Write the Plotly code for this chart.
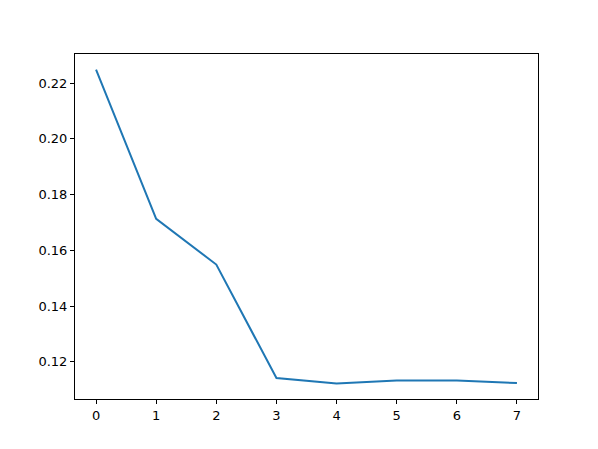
import plotly.graph_objects as go

# data
epochs = [0, 1, 2, 3, 4, 5, 6, 7]
loss = [0.2248, 0.1713, 0.1549, 0.1142, 0.1123, 0.1133, 0.1133, 0.1124]

x_ticks = [0, 1, 2, 3, 4, 5, 6, 7]
y_ticks = [0.12, 0.14, 0.16, 0.18, 0.20, 0.22]

fig = go.Figure()
fig.add_trace(go.Scatter(
    x=epochs, y=loss, mode="lines",
    line=dict(color="#1f77b4", width=2),
    showlegend=False,
))

axis_style = dict(
    showgrid=False, zeroline=False,
    showline=True, linecolor="black", linewidth=1, mirror=True,
    ticks="outside", ticklen=4, tickcolor="black", tickwidth=1,
)

fig.update_xaxes(range=[-0.35, 7.35], tickvals=x_ticks, **axis_style)
fig.update_yaxes(range=[0.1067, 0.2304], tickvals=y_ticks,
                 ticktext=[f"{v:.2f}" for v in y_ticks], **axis_style)

# page body adds ~8px offset, so shift the plot area up/left
fig.update_layout(
    width=598, height=449,
    margin=dict(l=67, r=68, t=46, b=58),
    paper_bgcolor="white", plot_bgcolor="white",
    font=dict(family="DejaVu Sans", size=13, color="black"),
)

fig.write_html("out.html")
